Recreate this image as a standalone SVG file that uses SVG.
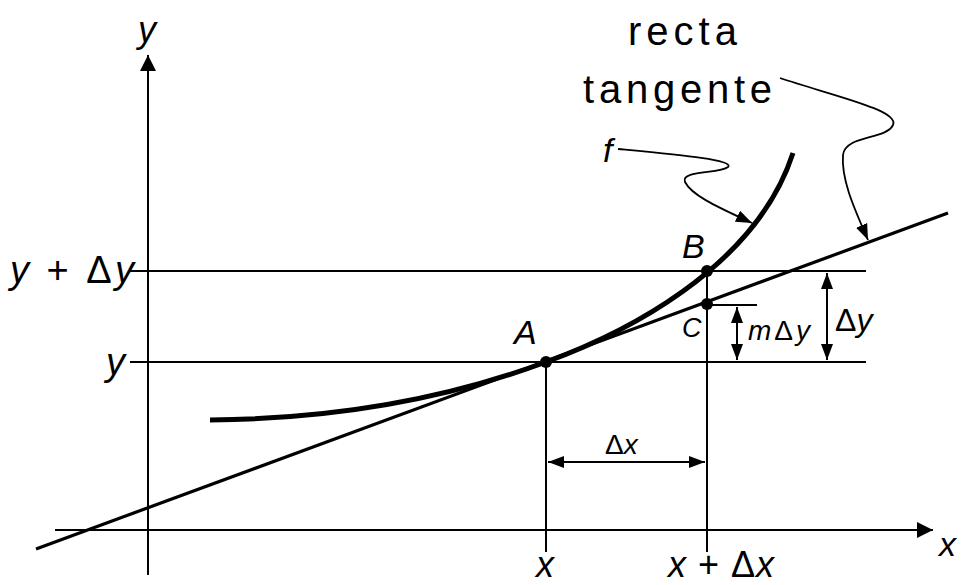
<svg xmlns="http://www.w3.org/2000/svg" width="963" height="585" viewBox="0 0 963 585">
<style>
.ln{stroke:#000;stroke-width:2;fill:none}
.tg{stroke:#000;stroke-width:3.2;fill:none}
.cv{stroke:#000;stroke-width:5;fill:none}
.cl{stroke:#000;stroke-width:1.8;fill:none}
text{font-family:"Liberation Sans","DejaVu Sans",sans-serif;fill:#000}
.it{font-style:italic}
</style>
<defs>
<marker id="ah" viewBox="0 0 16 12" refX="16" refY="6" markerWidth="16" markerHeight="13" markerUnits="userSpaceOnUse" orient="auto-start-reverse">
<path d="M0,0 L16,6 L0,12 Z" fill="#000"/>
</marker>
<marker id="ax" viewBox="0 0 16 16" refX="16" refY="8" markerWidth="16" markerHeight="16" markerUnits="userSpaceOnUse" orient="auto">
<path d="M0,0 L16,8 L0,16 Z" fill="#000"/>
</marker>
</defs>
<rect width="963" height="585" fill="#fff"/>
<g id="connectors">
<line class="ln" x1="55" y1="530" x2="933" y2="530" marker-end="url(#ax)"/>
<line class="ln" x1="148" y1="575" x2="148" y2="55" marker-end="url(#ax)"/>
<line class="ln" x1="130" y1="271" x2="866" y2="271"/>
<line class="ln" x1="130" y1="362" x2="866" y2="362"/>
<line class="ln" x1="546" y1="362" x2="546" y2="552"/>
<line class="ln" x1="707" y1="271" x2="707" y2="552"/>
<line class="ln" x1="707" y1="305" x2="757" y2="305"/>
<line class="tg" x1="36" y1="549" x2="948" y2="213"/>
<path class="cv" d="M210,420 C350,419 460,394 546,362 C620,335 755,270 793,153"/>
<line class="ln" x1="737" y1="307" x2="737" y2="360" marker-start="url(#ah)" marker-end="url(#ah)"/>
<line class="ln" x1="827" y1="273" x2="827" y2="360" marker-start="url(#ah)" marker-end="url(#ah)"/>
<line class="ln" x1="548" y1="462" x2="705" y2="462" marker-start="url(#ah)" marker-end="url(#ah)"/>
<path class="cl" d="M618,149 C680,155 735,160 728,167 C720,174 680,170 685,182 C692,196 720,208 752,223" marker-end="url(#ah)"/>
<path class="cl" d="M780,78 C830,95 900,110 893,125 C886,140 845,135 843,155 C841,180 855,210 868,240" marker-end="url(#ah)"/>
</g>
<g id="point-A"><circle cx="546" cy="362" r="6"/><text class="it" x="514" y="344" font-size="34">A</text></g>
<g id="point-B"><circle cx="707" cy="271" r="6"/><text class="it" x="682" y="258" font-size="34">B</text></g>
<g id="point-C"><circle cx="707" cy="304" r="6"/><text class="it" x="682" y="337" font-size="27">C</text></g>
<g id="labels">
<text class="it" x="138" y="42" font-size="36">y</text>
<text x="10" y="283" font-size="38" textLength="124" lengthAdjust="spacing"><tspan class="it">y</tspan> + Δ<tspan class="it">y</tspan></text>
<text class="it" x="106" y="375" font-size="38">y</text>
<text x="628" y="45" font-size="40" textLength="109" lengthAdjust="spacing">recta</text>
<text x="583" y="103" font-size="40" textLength="189" lengthAdjust="spacing">tangente</text>
<text class="it" x="603" y="162" font-size="34">f</text>
<text x="748" y="340" font-size="28" textLength="62" lengthAdjust="spacing"><tspan class="it">m</tspan>Δ<tspan class="it">y</tspan></text>
<text x="835" y="331" font-size="32">Δ<tspan class="it">y</tspan></text>
<text x="605" y="454" font-size="28">Δ<tspan class="it">x</tspan></text>
<text class="it" x="536" y="577" font-size="36">x</text>
<text x="668" y="577" font-size="36" textLength="106" lengthAdjust="spacing"><tspan class="it">x</tspan> + Δ<tspan class="it">x</tspan></text>
<text class="it" x="939" y="556" font-size="34">x</text>
</g>
</svg>
